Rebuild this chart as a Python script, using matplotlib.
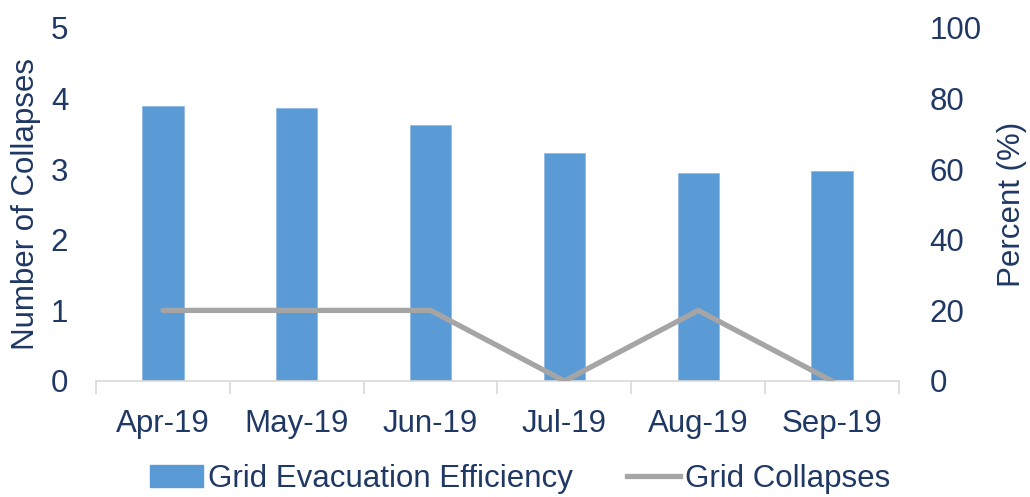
import matplotlib
matplotlib.use("Agg")
import matplotlib.pyplot as plt
import numpy as np
from matplotlib.lines import Line2D
from matplotlib.patches import Patch

months = ["Apr-19", "May-19", "Jun-19", "Jul-19", "Aug-19", "Sep-19"]
efficiency = [77.9, 77.3, 72.6, 64.7, 58.8, 59.6]
collapses = [1, 1, 1, 0, 1, 0]

navy = "#1f3864"
bar_col = "#5b9bd5"
line_col = "#a5a5a5"
plt.rcParams['font.family'] = ['Liberation Sans', 'DejaVu Sans']
fs = 22.5

fig = plt.figure(figsize=(10.30, 4.97), dpi=100)
ax = fig.add_axes([96/1030, 1-381/497, (899-96)/1030, (381-28)/497])
ax2 = ax.twinx()

x = np.arange(len(months))
ax2.bar(x, efficiency, width=0.31, color=bar_col, edgecolor="#8fbbe6", linewidth=0.6, zorder=1)
ax.set_zorder(ax2.get_zorder() + 1)
ax.patch.set_visible(False)
ax.plot(x, collapses, color=line_col, linewidth=3.8, solid_capstyle='round', zorder=3)

ax.set_xlim(-0.5, len(months) - 0.5)
ax.set_ylim(0, 5)
ax2.set_ylim(0, 100)
ax.set_yticks(range(0, 6))
ax2.set_yticks(range(0, 101, 20))

for a in (ax, ax2):
    for s in a.spines.values():
        s.set_visible(False)
    a.tick_params(axis='y', length=0, labelsize=fs, labelcolor=navy)
ax.spines['bottom'].set_visible(True)
ax.spines['bottom'].set_color("#d9d9d9")
ax.spines['bottom'].set_linewidth(1.2)

ax.set_xticks(x)
ax.set_xticklabels(months)
ax.tick_params(axis='x', which='major', length=0, labelsize=fs, labelcolor=navy, pad=20)
ax.set_xticks(np.arange(-0.5, len(months)), minor=True)
ax.tick_params(axis='x', which='minor', length=9, color="#d9d9d9", width=1.2)
ax2.tick_params(axis='x', length=0)
ax.tick_params(axis='y', pad=20)
ax2.tick_params(axis='y', pad=22)

ax.set_ylabel("Number of Collapses", fontsize=fs, color=navy)
ax2.set_ylabel("Percent (%)", fontsize=fs, color=navy)
ax.yaxis.set_label_coords(-0.068, 0.5)
ax2.yaxis.set_label_coords(1.122, 0.5)

handles = [Patch(facecolor=bar_col, edgecolor=bar_col),
           Line2D([0], [0], color=line_col, linewidth=3.8)]
fig.legend(handles, ["Grid Evacuation Efficiency", "Grid Collapses"],
           loc='center', bbox_to_anchor=(0.505, 0.036), ncol=2, frameon=False,
           fontsize=fs, labelcolor=navy, handlelength=1.7, handletextpad=0.16,
           columnspacing=1.75, handleheight=0.7)

fig.savefig("out.png", dpi=100)
